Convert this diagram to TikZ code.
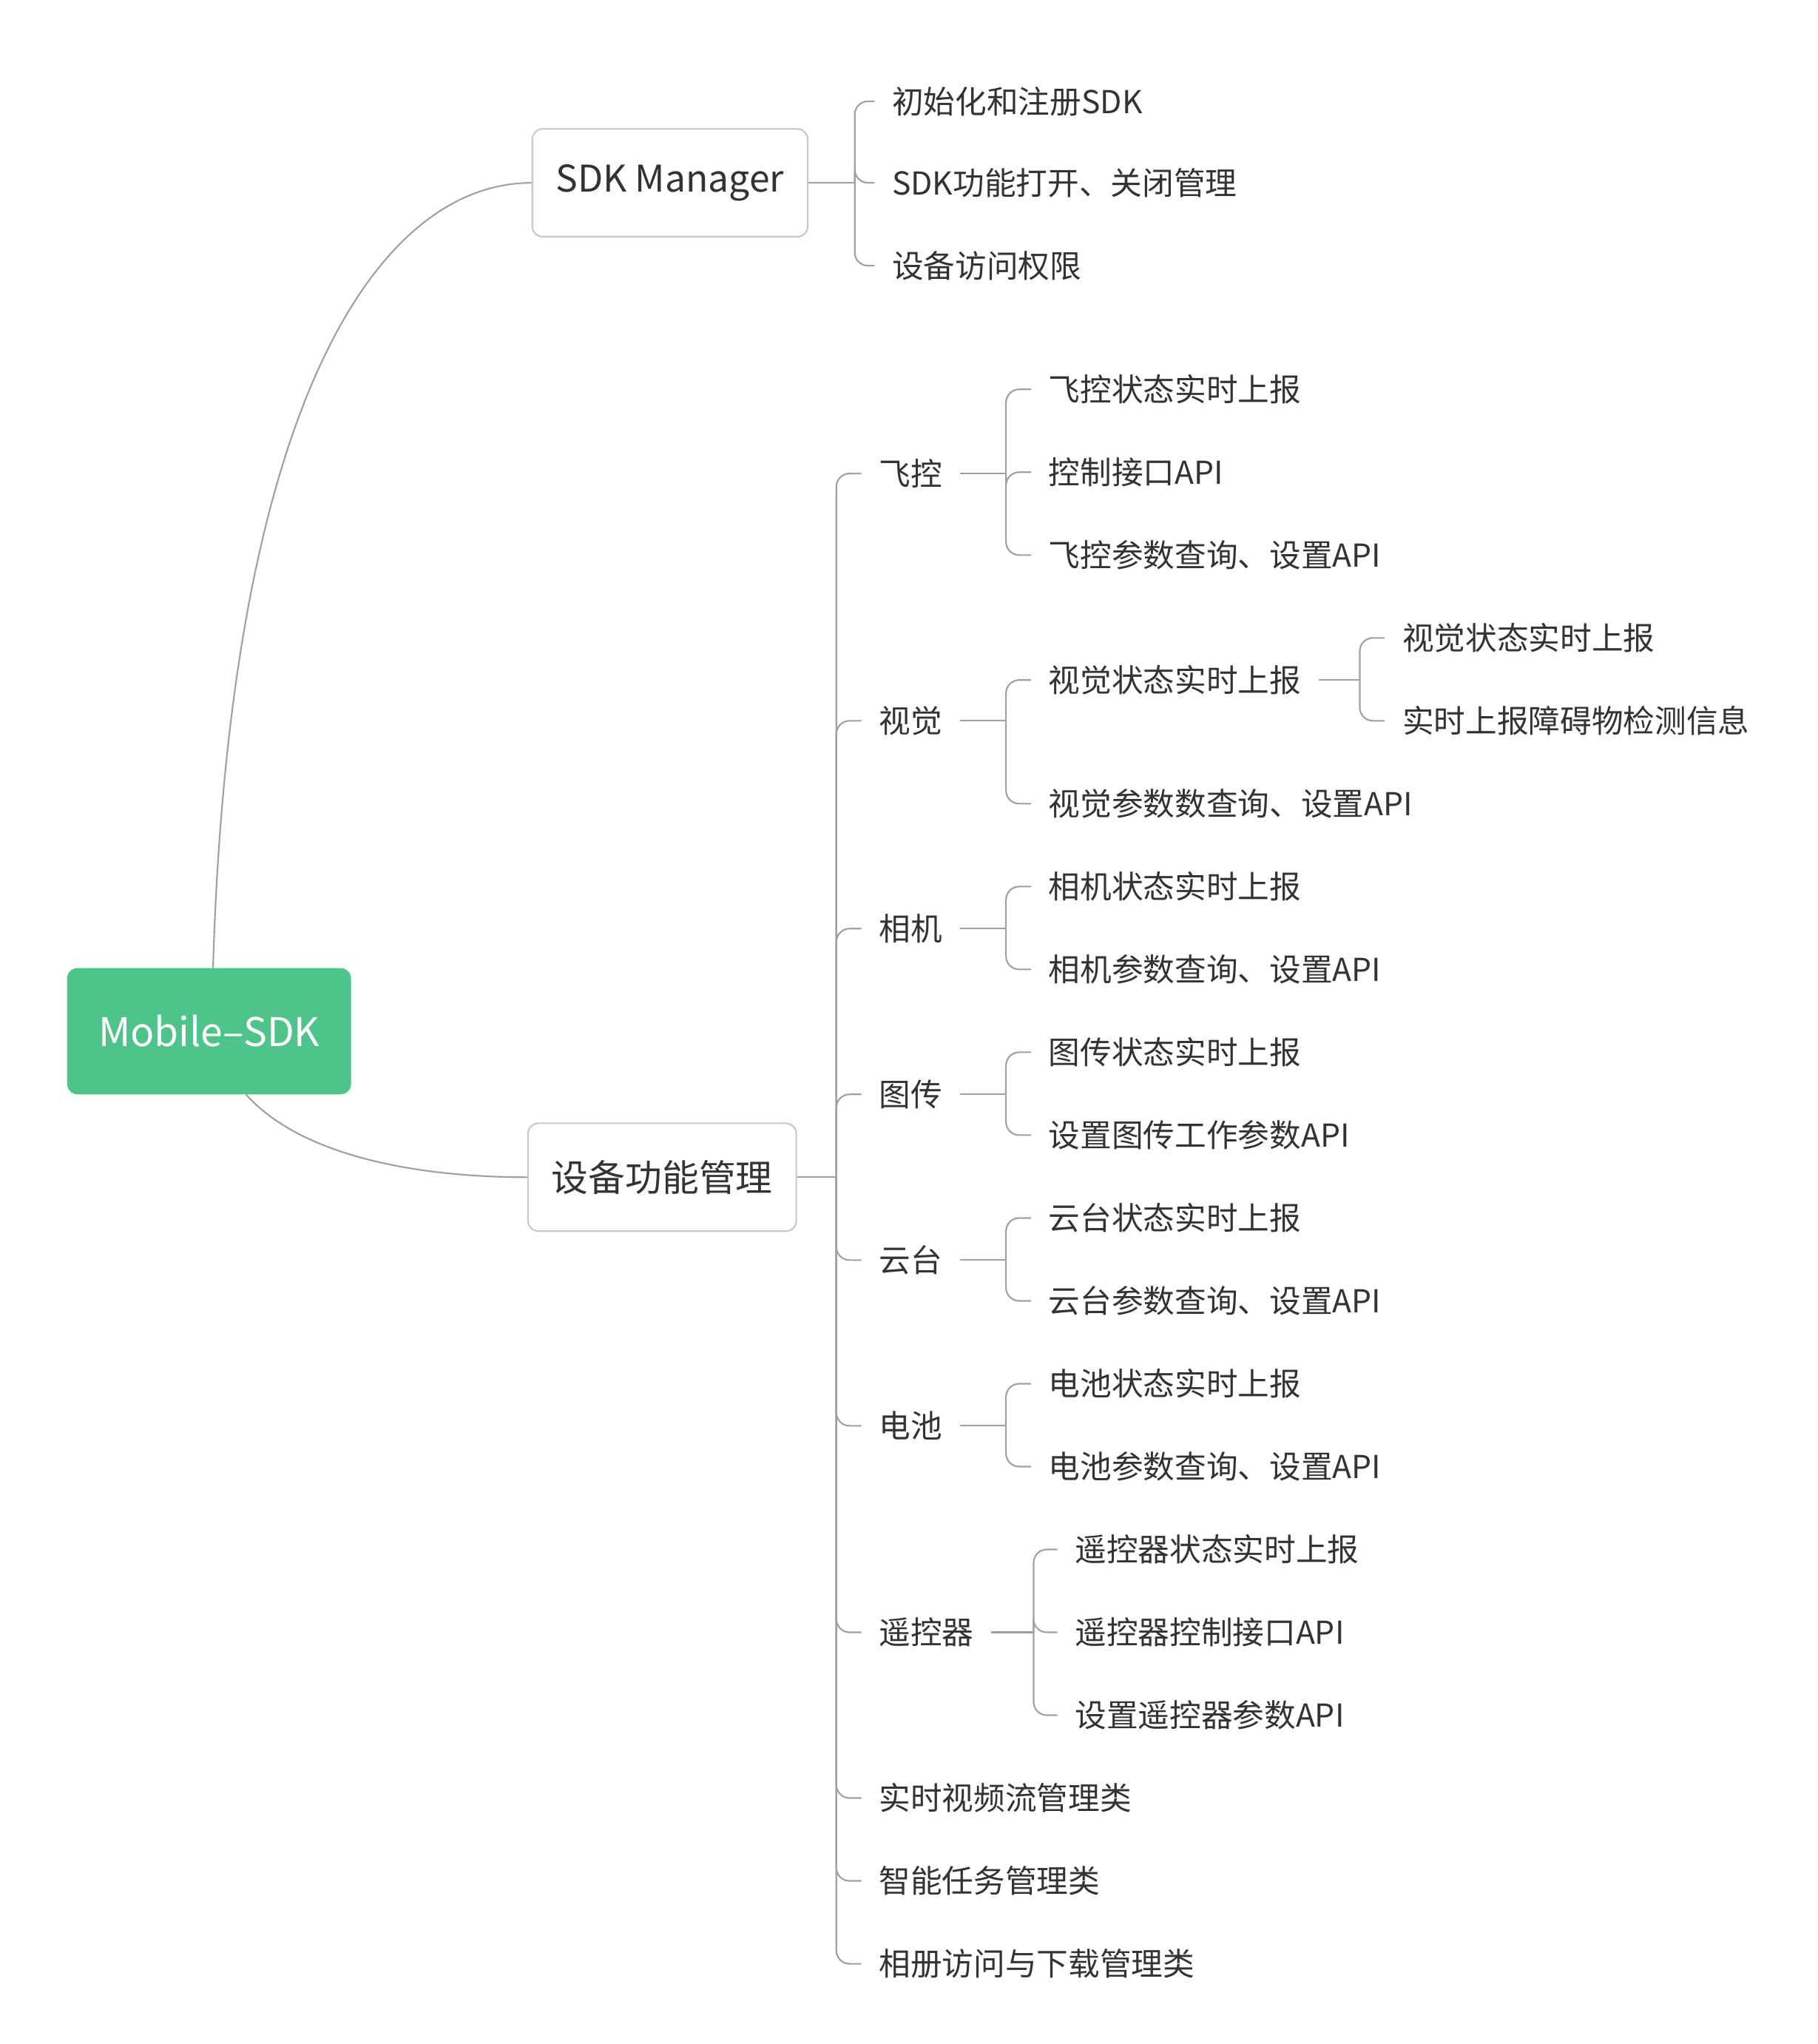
\documentclass[tikz,border=0pt]{standalone}
\usepackage{fontspec}
\newfontfamily\cjk{Noto Sans CJK SC}
\setmainfont{Noto Sans CJK SC}
\definecolor{rootgreen}{HTML}{4EC48A}
\definecolor{txt}{HTML}{333333}
\definecolor{boxgray}{HTML}{C8C8C8}
\definecolor{linegray}{HTML}{A0A0A0}
\tikzset{
  leaf/.style={anchor=west, inner xsep=6.5pt, inner ysep=2pt, text=txt,
    font=\cjk\fontsize{12}{14}\selectfont},
  topic/.style={draw=boxgray, rounded corners=4pt, line width=0.6pt,
    minimum height=41pt, inner xsep=9pt, text=txt,
    font=\cjk\fontsize{14}{16}\selectfont},
  link/.style={draw=linegray, line width=0.6pt}
}
\newcommand\fork[3]{%
  \draw[link] (#1.east) -- (#1.east -| #2);
  \foreach \c in {#3} {\draw[link, rounded corners=5pt] (#1.east -| #2) |- (\c.west);}}
\begin{document}
\begin{tikzpicture}[x=0.5pt,y=-0.5pt]
  \useasboundingbox (0,0) rectangle (1382,1554);
  \node[fill=rootgreen, rounded corners=4pt, minimum width=108pt, minimum height=48pt,
        text=white, font=\cjk\fontsize{15}{18}\selectfont] (root) at (159,784) {Mobile–SDK};
  \node[topic] (mgr) at (509.5,139) {SDK Manager};
  \node[topic] (dev) at (503.5,895) {设备功能管理};
  \draw[link] (162,736) .. controls (175,300) and (290,139) .. (mgr.west);
  \draw[link] (187,832) .. controls (230,880) and (320,895) .. (dev.west);
  % SDK Manager
  \node[leaf] (m1) at (665,77) {初始化和注册SDK};
  \node[leaf] (m2) at (665,139) {SDK功能打开、关闭管理};
  \node[leaf] (m3) at (665,202) {设备访问权限};
  \coordinate (bm) at (650,0);
  \fork{mgr}{bm}{m1,m2,m3}
  % device functions
  \node[leaf] (fk) at (655,360) {飞控};
  \node[leaf] (sj) at (655,548) {视觉};
  \node[leaf] (xj) at (655,706) {相机};
  \node[leaf] (tc) at (655,832) {图传};
  \node[leaf] (yt) at (655,958) {云台};
  \node[leaf] (dc) at (655,1084) {电池};
  \node[leaf] (ykq) at (655,1241) {遥控器};
  \node[leaf] (sp) at (655,1367) {实时视频流管理类};
  \node[leaf] (rw) at (655,1430) {智能任务管理类};
  \node[leaf] (xc) at (655,1493) {相册访问与下载管理类};
  \coordinate (bd) at (636,0);
  \fork{dev}{bd}{fk,sj,xj,tc,yt,dc,ykq,sp,rw,xc}
  % second level
  \coordinate (b2) at (765,0);
  \node[leaf] (fk1) at (784,296) {飞控状态实时上报};
  \node[leaf] (fk2) at (784,359) {控制接口API};
  \node[leaf] (fk3) at (784,422) {飞控参数查询、设置API};
  \fork{fk}{b2}{fk1,fk2,fk3}
  \node[leaf] (sj1) at (784,517) {视觉状态实时上报};
  \node[leaf] (sj2) at (784,611) {视觉参数数查询、设置API};
  \fork{sj}{b2}{sj1,sj2}
  \node[leaf] (sj11) at (1053,485) {视觉状态实时上报};
  \node[leaf] (sj12) at (1053,548) {实时上报障碍物检测信息};
  \coordinate (b3) at (1034,0);
  \fork{sj1}{b3}{sj11,sj12}
  \node[leaf] (xj1) at (784,674) {相机状态实时上报};
  \node[leaf] (xj2) at (784,737) {相机参数查询、设置API};
  \fork{xj}{b2}{xj1,xj2}
  \node[leaf] (tc1) at (784,800) {图传状态实时上报};
  \node[leaf] (tc2) at (784,863) {设置图传工作参数API};
  \fork{tc}{b2}{tc1,tc2}
  \node[leaf] (yt1) at (784,926) {云台状态实时上报};
  \node[leaf] (yt2) at (784,989) {云台参数查询、设置API};
  \fork{yt}{b2}{yt1,yt2}
  \node[leaf] (dc1) at (784,1052) {电池状态实时上报};
  \node[leaf] (dc2) at (784,1115) {电池参数查询、设置API};
  \fork{dc}{b2}{dc1,dc2}
  \coordinate (b4) at (786,0);
  \node[leaf] (ykq1) at (804,1178) {遥控器状态实时上报};
  \node[leaf] (ykq2) at (804,1241) {遥控器控制接口API};
  \node[leaf] (ykq3) at (804,1304) {设置遥控器参数API};
  \fork{ykq}{b4}{ykq1,ykq2,ykq3}
\end{tikzpicture}
\end{document}
